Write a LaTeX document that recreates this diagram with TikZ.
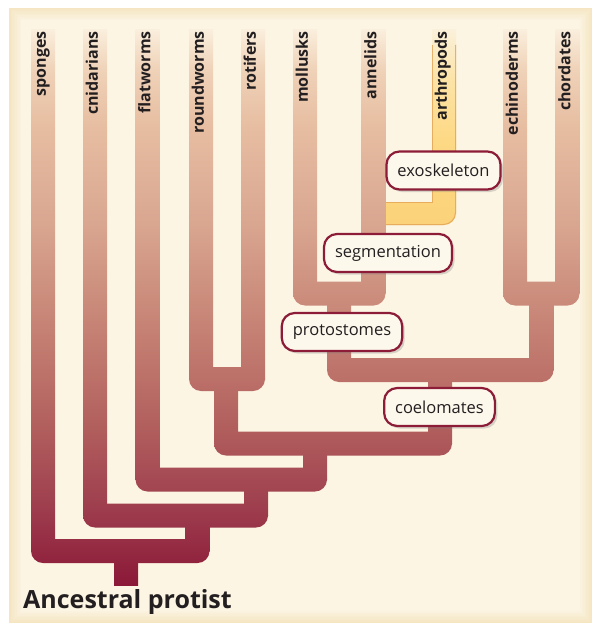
\documentclass[tikz,border=0pt]{standalone}
\usepackage{fontspec}
\setmainfont{Open Sans}
\usetikzlibrary{shadows}

\definecolor{panel}{HTML}{FCF5E3}
\definecolor{glow}{HTML}{EFD6A4}
\definecolor{crimson}{HTML}{8C1C38}
\definecolor{boxfill}{HTML}{FDF8EC}
\definecolor{ink}{HTML}{231F20}
\definecolor{arthedge}{HTML}{E2A355}
\definecolor{tree0}{HTML}{8B1838}
\definecolor{tree1}{HTML}{A04250}
\definecolor{tree2}{HTML}{B2605E}
\definecolor{tree3}{HTML}{C47F72}
\definecolor{tree4}{HTML}{D9A690}
\definecolor{tree5}{HTML}{E7BEA2}
\definecolor{tree6}{HTML}{EFD2B8}
\definecolor{tree7}{HTML}{FAEEDC}
\definecolor{arth0}{HTML}{FBD279}
\definecolor{arth1}{HTML}{FDD985}
\definecolor{arth2}{HTML}{FCE3A6}
\definecolor{arth3}{HTML}{FBF1DA}

\pgfdeclareverticalshading{treeshade}{100bp}{color(0bp)=(tree0); color(28bp)=(tree0);
  color(35bp)=(tree1); color(41bp)=(tree2); color(48bp)=(tree3); color(57bp)=(tree4);
  color(65bp)=(tree5); color(69.4bp)=(tree6); color(72.6bp)=(tree7); color(100bp)=(tree7)}
\pgfdeclareverticalshading{arthshade}{100bp}{color(0bp)=(arth0); color(57bp)=(arth0);
  color(63.8bp)=(arth1); color(68.6bp)=(arth2); color(72.6bp)=(arth3); color(100bp)=(arth3)}

\begin{document}
\begin{tikzpicture}[x=1pt,y=-1pt,
    branch/.style={path picture={\shade[shading=treeshade] (0,0) rectangle (592,623);}},
    arthbranch/.style={path picture={\shade[shading=arthshade] (0,0) rectangle (592,623);}},
    taxon/.style={rotate=90,anchor=east,inner sep=0pt,text height=0.75em,text depth=0.2em,
      font=\bfseries\fontsize{16}{16}\selectfont,text=ink},
    trait/.style={draw=crimson,line width=2.2pt,fill=boxfill,rounded corners=13pt,
      minimum height=38pt,inner xsep=11pt,inner ysep=0pt,text=ink,
      font=\fontsize{16.5}{16.5}\selectfont,
      drop shadow={shadow xshift=2.5pt,shadow yshift=-2.5pt,opacity=.3}}]
  \useasboundingbox (0,0) rectangle (592,623);
  \fill[panel] (9,8) rectangle (592,623);
  \foreach \i [evaluate=\i as \op using 0.5-0.06*\i] in {0,...,7}
    \draw[glow,line width=1.5pt,opacity=\op] (9.75+1.5*\i,8.75+1.5*\i) rectangle (591.25-1.5*\i,622.25-1.5*\i);

  % arthropods
  \path[arthbranch] (432,30) rectangle (456,213.5);
  \path[arthbranch,rounded corners=12pt] (373,202) rectangle (456,225);
  \draw[arthedge,line width=1pt,opacity=.8] (432.5,45) -- (432.5,202.5) -- (385,202.5);
  \draw[arthedge,line width=1pt,opacity=.8,rounded corners=12pt] (455.5,45) -- (455.5,224.5) -- (385,224.5);

  % tips
  \foreach \x/\y in {43/551,95/515.5,147.5/479.5,201/379,253/379,305/293.5,373.5/293.5,515/293.5,567.5/293.5}
    \path[branch] (\x-12,30) rectangle (\x+12,\y);
  % stems
  \foreach \x/\ya/\yb in {126/551/585,197.5/515.5/551,256/479.5/515.5,315/443.5/479.5,226/379/443.5,440/370/443.5,339/293.5/370,541.5/293.5/370}
    \path[branch] (\x-12,\ya) rectangle (\x+12,\yb);
  % crossbars
  \foreach \xa/\xb/\y in {43/197.5/551,95/256/515.5,147.5/315/479.5,226/440/443.5,201/253/379,339/541.5/370,305/373.5/293.5,515/567.5/293.5}
    \path[branch,rounded corners=12pt] (\xa-12,\y-12) rectangle (\xb+12,\y+12);

  \foreach \name/\x in {sponges/43,cnidarians/95,flatworms/147.5,roundworms/201,rotifers/253,mollusks/305,annelids/373.5,arthropods/444,echinoderms/515,chordates/567.5}
    \node[taxon] (\name) at (\x,31) {\name};

  \node[trait] (exoskeleton) at (443.5,170.5) {exoskeleton};
  \node[trait] (segmentation) at (388,253) {segmentation};
  \node[trait] (protostomes) at (342,332) {protostomes};
  \node[trait] (coelomates) at (439.5,407) {coelomates};

  \node[anchor=base west,inner sep=0pt,text=ink,font=\bfseries\fontsize{25}{25}\selectfont] (ancestor) at (23,608) {Ancestral protist};
\end{tikzpicture}
\end{document}
